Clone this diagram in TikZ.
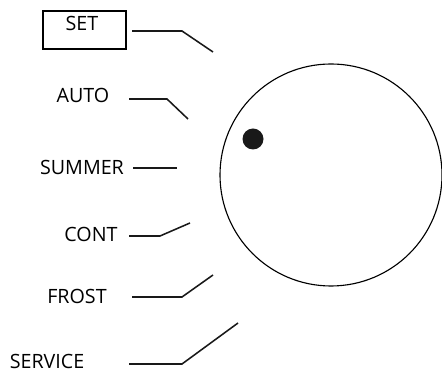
\documentclass[tikz,border=0pt]{standalone}
\usepackage{fontspec}
\setmainfont{Open Sans}
\usetikzlibrary{positioning}

\begin{document}
\begin{tikzpicture}[x=0.025cm,y=-0.025cm,font=\fontsize{14}{16}\selectfont,
    lbl/.style={inner sep=1pt},
    lead/.style={line width=1.1pt,black!90}]
  \useasboundingbox (0,0) rectangle (442,372);
  % knob
  \node[draw,circle,line width=0.8pt,minimum size=222*0.025cm,inner sep=0pt] (knob) at (331,175) {};
  \node[fill=black!90,circle,minimum size=21*0.025cm,inner sep=0pt] (dot) at (253,139) {};
  % labels
  \node[draw,line width=0.8pt,minimum width=83*0.025cm,minimum height=38*0.025cm,inner sep=0pt] (setbox) at (84.5,30) {};
  \node[lbl] (set) at (82,23) {SET};
  \node[lbl] (auto) at (83,95) {AUTO};
  \node[lbl] (summer) at (82,167) {SUMMER};
  \node[lbl] (cont) at (91,234) {CONT};
  \node[lbl] (frost) at (77,296) {FROST};
  \node[lbl] (service) at (47,361) {SERVICE};
  % leader lines
  \coordinate (set-a) at (132,31);     \coordinate (set-b) at (182,31);     \coordinate (set-c) at (213,52);
  \coordinate (auto-a) at (129,99);    \coordinate (auto-b) at (167,99);    \coordinate (auto-c) at (188,119);
  \coordinate (summer-a) at (133,168); \coordinate (summer-b) at (177,168);
  \coordinate (cont-a) at (129,236);   \coordinate (cont-b) at (160,236);   \coordinate (cont-c) at (190,223);
  \coordinate (frost-a) at (132,297);  \coordinate (frost-b) at (182,297);  \coordinate (frost-c) at (213,275);
  \coordinate (service-a) at (129,364);\coordinate (service-b) at (182,364);\coordinate (service-c) at (238,323);
  \draw[lead] (set-a) -- (set-b) -- (set-c);
  \draw[lead] (auto-a) -- (auto-b) -- (auto-c);
  \draw[lead] (summer-a) -- (summer-b);
  \draw[lead] (cont-a) -- (cont-b) -- (cont-c);
  \draw[lead] (frost-a) -- (frost-b) -- (frost-c);
  \draw[lead] (service-a) -- (service-b) -- (service-c);
\end{tikzpicture}
\end{document}
